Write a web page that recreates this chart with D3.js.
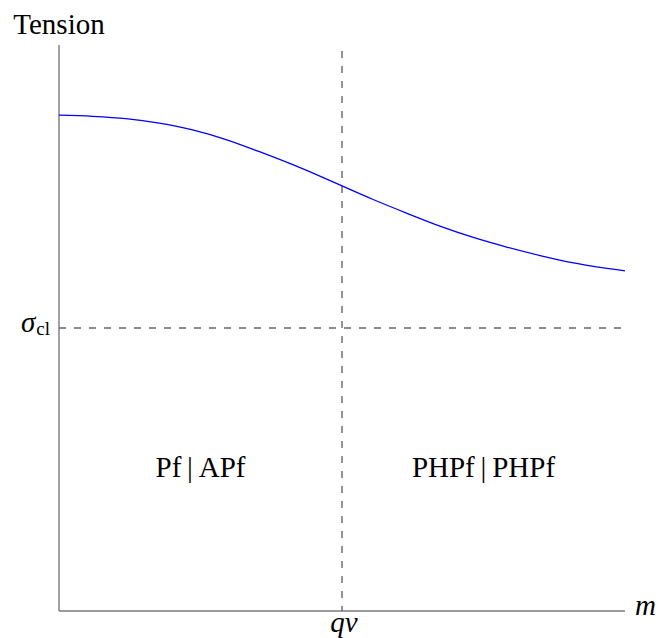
<!DOCTYPE html>
<html>
<head>
<meta charset="utf-8">
<script src="https://cdn.jsdelivr.net/npm/d3@7"></script>
<style>
  html, body { margin: 0; padding: 0; background: #fff; }
</style>
</head>
<body>
<svg id="chart" width="664" height="638"></svg>
<script>
// values (axes run 0..1 in both directions)
const mVals   = [0, 0.059, 0.118, 0.177, 0.236, 0.295, 0.353, 0.412, 0.471, 0.5,
                 0.555, 0.614, 0.673, 0.732, 0.791, 0.85, 0.909, 1.0];
const tension = [0.876, 0.874, 0.870, 0.862, 0.850, 0.833, 0.812, 0.789, 0.764, 0.751,
                 0.727, 0.703, 0.680, 0.660, 0.643, 0.628, 0.615, 0.601];
const qv = 0.5;          // vertical marker on m axis
const sigmaCl = 0.5;     // horizontal marker on tension axis
const regionLabels = ["Pf\u2009|\u2009APf", "PHPf\u2009|\u2009PHPf"];
const regionLabelY = 0.237;

const serif = "'Liberation Serif', 'Times New Roman', Times, 'DejaVu Serif', serif";

const svg = d3.select("#chart")
  .attr("font-family", serif);
const x = d3.scaleLinear().domain([0, 1]).range([59, 625]);
const y = d3.scaleLinear().domain([0, 1]).range([611, 45]);

// axes (plain lines, no ticks)
svg.append("line")
  .attr("x1", x(0)).attr("x2", x(1))
  .attr("y1", y(0)).attr("y2", y(0))
  .attr("stroke", "#7a7a7a").attr("stroke-width", 1.4);
svg.append("line")
  .attr("x1", x(0)).attr("x2", x(0))
  .attr("y1", y(0)).attr("y2", y(1))
  .attr("stroke", "#7a7a7a").attr("stroke-width", 1.4);

// dashed guides
svg.append("line")
  .attr("x1", x(qv)).attr("x2", x(qv))
  .attr("y1", y(1) - 1).attr("y2", y(0))
  .attr("stroke", "#666").attr("stroke-width", 1.4)
  .attr("stroke-dasharray", "7,8").attr("stroke-dashoffset", 8);
svg.append("line")
  .attr("x1", x(0)).attr("x2", x(1))
  .attr("y1", y(sigmaCl)).attr("y2", y(sigmaCl))
  .attr("stroke", "#666").attr("stroke-width", 1.4)
  .attr("stroke-dasharray", "7,8");

// tension curve
const line = d3.line()
  .x((d, i) => x(mVals[i]))
  .y(d => y(d))
  .curve(d3.curveMonotoneX);
svg.append("path")
  .datum(tension)
  .attr("d", line)
  .attr("fill", "none")
  .attr("stroke", "#0000ff")
  .attr("stroke-width", 1.3);

// labels
function label(t) {
  return t.attr("font-family", serif).attr("fill", "#000");
}

label(svg.append("text"))
  .attr("x", x(0)).attr("y", 34)
  .attr("text-anchor", "middle")
  .attr("font-size", 29)
  .text("Tension");

const sig = label(svg.append("text"))
  .attr("x", 50).attr("y", y(sigmaCl) + 4)
  .attr("text-anchor", "end")
  .attr("font-size", 29);
sig.append("tspan").attr("font-style", "italic").text("σ");
sig.append("tspan").attr("dy", 3).attr("dx", 1).attr("font-size", 19).text("cl");

label(svg.append("text"))
  .attr("x", x(qv) + 2).attr("y", 632)
  .attr("text-anchor", "middle")
  .attr("font-size", 29).attr("font-style", "italic")
  .text("qv");

label(svg.append("text"))
  .attr("x", x(1) + 10).attr("y", y(0) + 4)
  .attr("font-size", 29).attr("font-style", "italic")
  .text("m");

svg.selectAll("text.region")
  .data(regionLabels)
  .enter().append("text")
  .attr("class", "region")
  .call(label)
  .attr("x", (d, i) => x(i === 0 ? qv / 2 : (qv + 1) / 2))
  .attr("y", y(regionLabelY))
  .attr("text-anchor", "middle")
  .attr("font-size", 29)
  .text(d => d);
</script>
</body>
</html>
